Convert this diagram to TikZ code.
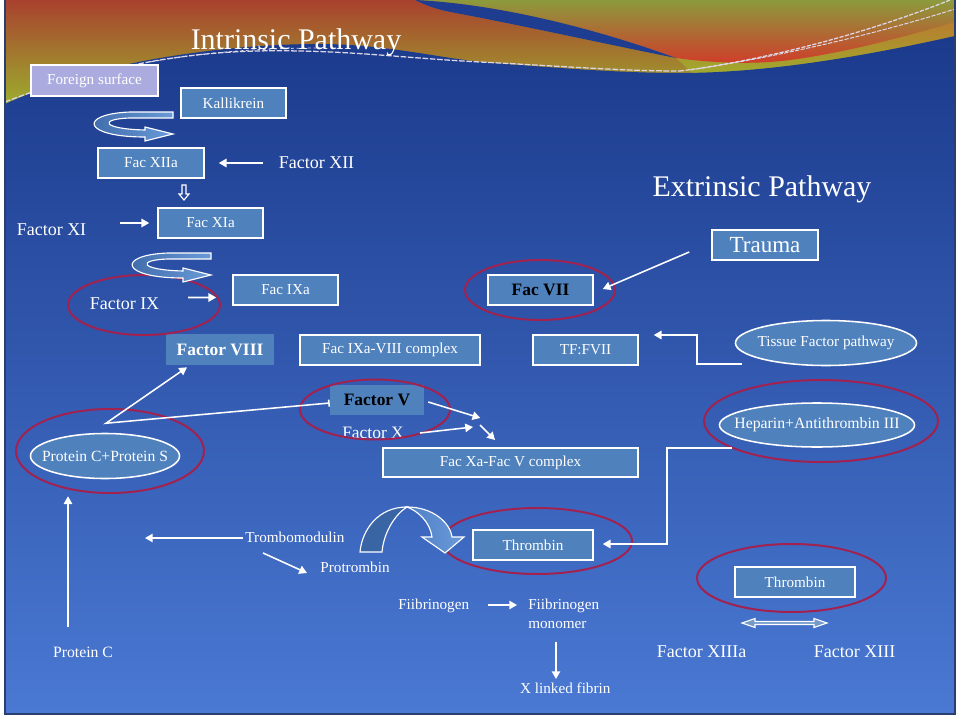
\documentclass[tikz,border=0pt]{standalone}
\usepackage{fontspec}
\setmainfont{Liberation Serif}
\usetikzlibrary{calc,arrows.meta,shapes.geometric}
\definecolor{boxblue}{HTML}{4F81BD}
\definecolor{ringred}{HTML}{A3214F}
\definecolor{bgtop}{HTML}{1B3A8C}
\definecolor{bgmid}{HTML}{3058B3}
\definecolor{bgbot}{HTML}{4A79D3}
\definecolor{tred}{HTML}{A9412E}
\definecolor{torange}{HTML}{C46A2F}
\definecolor{tgreen}{HTML}{9CAF2E}
\definecolor{tolive}{HTML}{8C9A3C}
\definecolor{tredtwo}{HTML}{D03C2A}
\definecolor{stripeblue}{HTML}{1F3D90}
\definecolor{lavender}{HTML}{ABABDF}
\definecolor{archdark}{HTML}{3A65A5}
\definecolor{archlight}{HTML}{6A9AD8}
\definecolor{archmid}{HTML}{4F80C6}
\definecolor{framecol}{HTML}{2B3F6E}
\definecolor{dotcol}{HTML}{DCD6E6}
\newcommand\fsz[2]{\fontsize{#1}{#2}\selectfont}
\tikzset{
 box/.style={draw=white, line width=1.1pt, fill=boxblue, text=white, inner sep=0pt, font=\fsz{10.8}{13}},
 nbbox/.style={fill=boxblue, inner sep=0pt, font=\fsz{12.4}{15}\bfseries},
 ell/.style={ellipse, draw=white, line width=1.1pt, fill=boxblue, text=white, inner sep=0pt, font=\fsz{10.8}{13}},
 lbl/.style={text=white, inner sep=0pt, anchor=base},
 txtsmall/.style={font=\fsz{10.8}{13.5}},
 txtmid/.style={font=\fsz{12.8}{15}},
 txttitle/.style={font=\fsz{21.3}{25}},
 arr/.style={draw=white, line width=1.1pt, -{Triangle[length=5.5pt,width=6pt]}},
 ring/.style={draw=ringred, line width=1.4pt},
 hollow/.style={draw=white, line width=0.8pt},
 uarrow/.style={hollow, left color=archdark, right color=archlight},
}
\begin{document}
\begin{tikzpicture}[x=0.025cm,y=-0.025cm]
\useasboundingbox (0,0) rectangle (960,716);
\fill[white] (0,0) rectangle (960,716);
% ---- slide background ----
\begin{scope}
\clip (5,0) rectangle (955,714);
\shade[top color=tred, middle color=torange, bottom color=tgreen] (5,0) rectangle (955,106);
\shade[top color=torange, bottom color=tgreen] (415,0) .. controls (425,5) and (435,9) .. (450,12)
  .. controls (520,25) and (610,45) .. (676,58) -- (700,80) -- (955,80) -- (955,0) -- cycle;
\shade[top color=tolive, middle color=torange, bottom color=tredtwo]
  (415,0) .. controls (500,4) and (600,30) .. (676,58)
  .. controls (720,64) and (760,64) .. (790,60)
  .. controls (850,52) and (910,35) .. (955,22) -- (955,0) -- cycle;
\fill[stripeblue] (415,0) .. controls (500,4) and (600,30) .. (676,58)
  .. controls (610,45) and (520,25) .. (450,12) .. controls (435,9) and (425,5) .. (415,0) -- cycle;
\shade[top color=bgtop, middle color=bgmid, bottom color=bgbot]
  (5,104) .. controls (40,88) and (100,68) .. (160,58)
  .. controls (220,48) and (270,44) .. (320,44)
  .. controls (380,44) and (430,56) .. (480,62)
  .. controls (560,68) and (620,73) .. (680,73)
  .. controls (770,73) and (870,55) .. (955,36) -- (955,714) -- (5,714) -- cycle;
\draw[dotcol, line width=0.9pt, dash pattern=on 4pt off 1.2pt]
  (5,102) .. controls (40,88) and (100,70) .. (160,60)
  .. controls (210,52) and (250,50) .. (300,51)
  .. controls (360,52) and (420,59) .. (480,62)
  .. controls (560,66) and (620,71) .. (680,71);
\draw[dotcol, line width=0.6pt, dash pattern=on 2pt off 2pt]
  (80,78) .. controls (150,58) and (230,48) .. (320,48);
\draw[dotcol, line width=0.9pt, dash pattern=on 3pt off 1pt] (680,71) .. controls (780,58) and (880,28) .. (950,0);
\draw[dotcol, line width=0.7pt, dash pattern=on 3pt off 1pt] (690,70) .. controls (790,55) and (890,30) .. (958,8);
\end{scope}
\draw[framecol, line width=0.8pt] (5,0) -- (5,714) -- (955,714) -- (955,0);

% ---- titles ----
\node[lbl, txttitle] (intr) at (296,50) {Intrinsic Pathway};
\node[lbl, txttitle] (extr) at (762,196) {Extrinsic Pathway};

% ---- boxes ----
\node[box, fill=lavender, minimum width=3.175cm, minimum height=0.775cm] (foreign) at (94.5,80.5) {Foreign surface};
\node[box, minimum width=2.625cm, minimum height=0.75cm] (kal) at (233.5,103) {Kallikrein};
\node[box, minimum width=2.65cm, minimum height=0.75cm] (fxiia) at (151,163) {Fac XIIa};
\node[box, minimum width=2.625cm, minimum height=0.75cm] (fxia) at (210.5,223) {Fac XIa};
\node[box, minimum width=2.625cm, minimum height=0.75cm] (fixa) at (285.5,290) {Fac IXa};
\node[box, text=black, font=\fsz{12.4}{15}\bfseries, minimum width=2.625cm, minimum height=0.75cm] (fvii) at (540.5,290) {Fac VII};
\node[box, font=\fsz{16.4}{19}, minimum width=2.65cm, minimum height=0.75cm] (trauma) at (765,245) {Trauma};
\node[nbbox, text=white, minimum width=2.7cm, minimum height=0.775cm] (f8) at (220,349.5) {Factor VIII};
\node[box, minimum width=4.5cm, minimum height=0.75cm] (f9a8) at (390,350) {Fac IXa-VIII complex};
\node[box, minimum width=2.625cm, minimum height=0.75cm] (tf) at (585.5,350) {TF:FVII};
\node[ell, minimum width=4.525cm, minimum height=1.125cm] (tissue) at (826,343) {\makebox[0pt]{Tissue Factor pathway}};
\node[nbbox, text=black, minimum width=2.35cm, minimum height=0.75cm] (f5) at (377,400) {Factor V};
\node[box, minimum width=6.375cm, minimum height=0.725cm] (fxav) at (510.5,462.5) {Fac Xa-Fac V complex};
\node[ell, font=\fsz{11.2}{13}, minimum width=4.875cm, minimum height=1.1cm] (hep) at (817,425) {\makebox[0pt]{Heparin+Antithrombin III}};
\node[ell, font=\fsz{11.1}{13}, minimum width=3.725cm, minimum height=1.125cm] (pcs) at (105,456) {\makebox[0pt]{Protein C+Protein S}};
\node[box, minimum width=3cm, minimum height=0.75cm] (thr1) at (533,545) {Thrombin};
\node[box, minimum width=3cm, minimum height=0.75cm] (thr2) at (795,582) {Thrombin};

% ---- plain labels ----
\node[lbl, txtmid] (fxii) at (316.5,168) {Factor XII};
\node[lbl, txtmid] (fxi) at (51.5,235) {Factor XI};
\node[lbl, txtmid] (fix) at (124.5,309) {Factor IX};
\node[lbl, font=\fsz{12.4}{15}] (fx) at (373,438) {Factor X};
\node[lbl, txtsmall] (tromb) at (295,542) {Trombomodulin};
\node[lbl, txtsmall] (protromb) at (355,572) {Protrombin};
\node[lbl, txtsmall] (fib) at (433.7,609) {Fiibrinogen};
\node[text=white, inner sep=0pt, anchor=north west, align=left, txtsmall] (fibmono) at (528,598.5) {Fiibrinogen\\monomer};
\node[lbl, font=\fsz{11.2}{13}] (pc) at (83,657) {Protein C};
\node[lbl, txtmid] (fxiiia) at (701.7,657) {Factor XIIIa};
\node[lbl, txtmid] (fxiii) at (854.7,657) {Factor XIII};
\node[lbl, txtsmall] (xlink) at (565.3,693) {X linked fibrin};

% ---- red rings ----
\draw[ring] (144,305) ellipse [x radius=76, y radius=30];
\draw[ring] (540,290) ellipse [x radius=75, y radius=30];
\draw[ring] (375,409.5) ellipse [x radius=75, y radius=30];
\draw[ring] (110,451) ellipse [x radius=94, y radius=42];
\draw[ring] (821,421) ellipse [x radius=117, y radius=41];
\draw[ring] (537,541) ellipse [x radius=95, y radius=33];
\draw[ring] (791.5,578) ellipse [x radius=94.5, y radius=34];

% ---- hollow shapes ----
\draw[uarrow] (173,112) -- (130,112) .. controls (78,114) and (82,137) .. (145,137) -- (145,141) -- (173,134) -- (145,127) -- (145,130) .. controls (102,129) and (98,119) .. (130,118) -- (173,118) -- cycle;
\begin{scope}[shift={(38,141)}]
\draw[uarrow] (173,112) -- (130,112) .. controls (78,114) and (82,137) .. (145,137) -- (145,141) -- (173,134) -- (145,127) -- (145,130) .. controls (102,129) and (98,119) .. (130,118) -- (173,118) -- cycle;
\end{scope}
\draw[hollow] (182,185) -- (186,185) -- (186,194) -- (189,194) -- (184,200) -- (179,194) -- (182,194) -- cycle;
\draw[hollow, fill=archdark] (360,552) .. controls (362,530) and (378,507) .. (407,507) .. controls (397,513) and (384,530) .. (382,552) -- cycle;
\draw[hollow, left color=archmid, right color=archlight] (407,507) .. controls (432,507) and (450,522) .. (452,537) -- (464,537) -- (445,553) -- (422,537) -- (432,537) .. controls (430,522) and (418,511) .. (407,507) -- cycle;
\draw[hollow, fill=boxblue!80!white] (742,623) -- (755,618.5) -- (755,621.5) -- (814,621.5) -- (814,618.5) -- (827,623) -- (814,627.5) -- (814,624.5) -- (755,624.5) -- (755,627.5) -- cycle;

% ---- connectors ----
\draw[arr] ($(fxii.base)+(-53.5,-5)$) -- ($(fxiia.east)+(14,0)$);
\draw[arr] ($(fxi.base)+(68.5,-12)$) -- ($(fxia.west)+(-8,0)$);
\draw[arr] ($(fix.base)+(63.5,-11.5)$) -- ($(fixa.west)+(-16,7.5)$);
\draw[arr] ($(trauma.west)+(-22,7)$) -- ($(fvii.east)+(9,-1)$);
\draw[arr] ($(tissue.west)+(7.5,21)$) -- ($(tissue.west)+(-37.5,21)$) |- ($(tf.east)+(15,-15)$);
\draw[arr] ($(hep.west)+(13.5,23)$) -- ($(hep.west)+(-51.5,23)$) |- ($(thr1.east)+(9,-1)$);
\coordinate (kink) at ($(pcs.north)+(1,-9.5)$);
\draw[draw=white, line width=1.1pt, {Bar[width=5pt]}-{Triangle[length=5.5pt,width=6pt]}] ($(f5.west)+(0,3)$) -- (kink) -- ($(f8.south)+(-33,2)$);
\draw[arr] ($(pc.base)+(-15,-30)$) -- ($(pcs.south)+(-37,17)$);
\draw[arr] ($(tromb.base)+(-52,-4)$) -- ($(tromb.base)+(-150,-4)$);
\draw[arr] ($(tromb.base)+(-32,11)$) -- ($(protromb.base)+(-48,1)$);
\draw[arr] ($(f5.east)+(4,2)$) -- ($(f5.east)+(56,18)$);
\draw[arr] ($(fx.base)+(47,-5)$) -- ($(fx.base)+(100,-11)$);
\draw[arr] ($(fx.base)+(107,-13)$) -- ($(fx.base)+(122,2)$);
\draw[arr] ($(fib.base)+(54.3,-4)$) -- ($(fibmono.north west)+(-11,6.5)$);
\draw[arr] ($(fibmono.north west)+(28,43.5)$) -- ($(xlink.base)+(-9.3,-14)$);
\end{tikzpicture}
\end{document}
